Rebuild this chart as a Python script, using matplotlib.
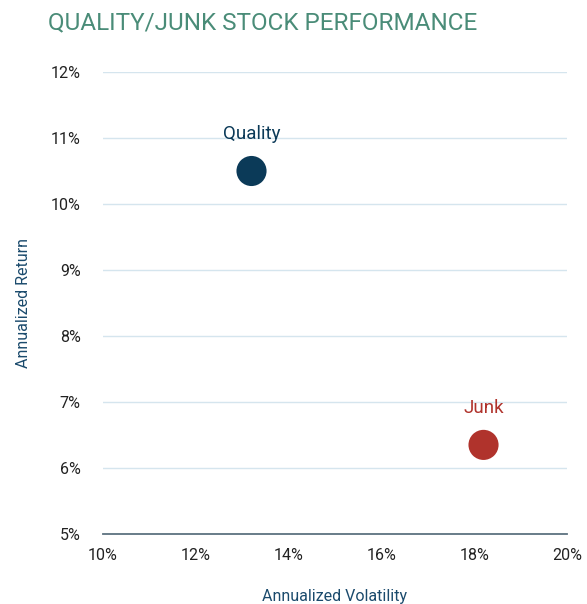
import matplotlib
matplotlib.use("Agg")
import matplotlib.pyplot as plt
from matplotlib.ticker import FuncFormatter

plt.rcParams["font.family"] = ["Roboto", "DejaVu Sans"]

# data (percent)
names = ["Quality", "Junk"]
volatility = [13.2, 18.2]
returns = [10.5, 6.35]
colors = ["#0b3a58", "#b0332c"]

x_ticks = [10, 12, 14, 16, 18, 20]
y_ticks = [5, 6, 7, 8, 9, 10, 11, 12]

fig = plt.figure(figsize=(5.87, 6.04), dpi=100)
ax = fig.add_axes([0.1755, 0.1159, 0.7905, 0.7649])

ax.scatter(volatility, returns, s=470, c=colors, zorder=3, linewidths=0)
for name, x, y, c in zip(names, volatility, returns, colors):
    ax.annotate(name, (x, y), xytext=(0, 20), textcoords="offset points",
                ha="center", va="bottom", color=c, fontsize=13.5)

ax.set_xlim(10, 20)
ax.set_ylim(5, 12)
ax.set_xticks(x_ticks)
ax.set_yticks(y_ticks)
ax.xaxis.set_major_formatter(FuncFormatter(lambda v, _: f"{v:.0f}%"))
ax.yaxis.set_major_formatter(FuncFormatter(lambda v, _: f"{v:.0f}%"))
ax.tick_params(length=0, labelsize=11.5, labelcolor="#222222")
ax.tick_params(axis="x", pad=10)
ax.tick_params(axis="y", pad=16)

ax.grid(axis="y", color="#d5e5ee", lw=1)
ax.set_axisbelow(True)
for s in ["top", "right", "left"]:
    ax.spines[s].set_visible(False)
ax.spines["bottom"].set_color("#5d7280")
ax.spines["bottom"].set_linewidth(1.3)

ax.set_xlabel("Annualized Volatility", color="#1a4a6c", fontsize=11.5, labelpad=19)
ax.set_ylabel("Annualized Return", color="#1a4a6c", fontsize=11.5, labelpad=14)

fig.text(0.082, 0.963, "QUALITY/JUNK STOCK PERFORMANCE", color="#4a8c78",
         fontsize=17.5, ha="left", va="center")

fig.savefig("out.png", dpi=100)
